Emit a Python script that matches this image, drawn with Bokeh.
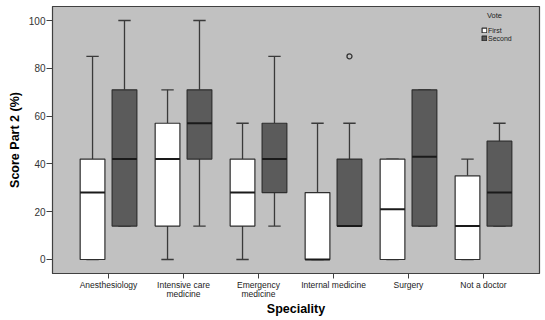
from bokeh.plotting import figure
from bokeh.models import Range1d, FixedTicker, Legend, LegendItem, ColumnDataSource, Label
from bokeh.embed import file_html
from bokeh.resources import INLINE

categories = ["Anesthesiology", "Intensive care\nmedicine", "Emergency\nmedicine",
              "Internal medicine", "Surgery", "Not a doctor"]
series_names = ["First", "Second"]
legend_title = "Vote"

first_lower = [0, 0, 0, 0, 0, 0]
first_q1 = [0, 14, 14, 0, 0, 0]
first_median = [28, 42, 28, 0, 21, 14]
first_q3 = [42, 57, 42, 28, 42, 35]
first_upper = [85, 71, 57, 57, 42, 42]

second_lower = [14, 14, 14, 14, 14, 14]
second_q1 = [14, 42, 28, 14, 14, 14]
second_median = [42, 57, 42, 14, 43, 28]
second_q3 = [71, 71, 57, 42, 71, 49.5]
second_upper = [100, 100, 85, 57, 71, 57]

outlier_cat = [3]
outlier_series = [1]
outlier_value = [85]

y_ticks = [0, 20, 40, 60, 80, 100]

FONT = "Liberation Sans"
BG = "#c1c1c1"
DARK = "#5b5b5b"
EDGE = "#2e2e2e"
OFFSET = 0.213
BOXW = 0.33

p = figure(width=545, height=320, output_backend="svg", toolbar_location=None,
           x_range=Range1d(-0.747, 5.747), y_range=Range1d(-5.86, 105.86),
           min_border_left=52, min_border_right=6, min_border_top=6, min_border_bottom=47)
p.background_fill_color = BG
p.border_fill_color = "white"
p.outline_line_color = "#404040"
p.outline_line_width = 1.2
p.grid.visible = False

fills = ["white", DARK]
stats = [
    (first_lower, first_q1, first_median, first_q3, first_upper),
    (second_lower, second_q1, second_median, second_q3, second_upper),
]
box_renderers = []
for s, (lo, q1, med, q3, up) in enumerate(stats):
    off = -OFFSET if s == 0 else OFFSET
    xs = [i + off for i in range(len(categories))]
    src = ColumnDataSource(dict(
        x=xs, lo=lo, q1=q1, med=med, q3=q3, up=up,
        xl=[x - BOXW / 2 for x in xs], xr=[x + BOXW / 2 for x in xs],
        cl=[x - BOXW / 4 for x in xs], cr=[x + BOXW / 4 for x in xs],
    ))
    # whiskers
    p.segment(x0="x", y0="q3", x1="x", y1="up", source=src, line_color="#3a3a3a", line_width=1.3)
    p.segment(x0="x", y0="lo", x1="x", y1="q1", source=src, line_color="#3a3a3a", line_width=1.3)
    p.segment(x0="cl", y0="up", x1="cr", y1="up", source=src, line_color="#3a3a3a", line_width=1.3)
    p.segment(x0="cl", y0="lo", x1="cr", y1="lo", source=src, line_color="#3a3a3a", line_width=1.3)
    r = p.vbar(x="x", width=BOXW, bottom="q1", top="q3", source=src,
               fill_color=fills[s], line_color=EDGE, line_width=1.2)
    box_renderers.append(r)
    p.segment(x0="xl", y0="med", x1="xr", y1="med", source=src, line_color="#1a1a1a", line_width=2)

ox = [c + (-OFFSET if s == 0 else OFFSET) for c, s in zip(outlier_cat, outlier_series)]
p.scatter(ox, outlier_value, marker="circle", size=5, fill_color=None,
          line_color="#333333", line_width=1.3)

# axes
p.yaxis.ticker = FixedTicker(ticks=y_ticks)
p.xaxis.ticker = FixedTicker(ticks=list(range(len(categories))))
p.xaxis.major_label_overrides = {i: c for i, c in enumerate(categories)}
for ax in (p.xaxis[0], p.yaxis[0]):
    ax.axis_line_color = "#404040"
    ax.major_tick_line_color = "#404040"
    ax.major_tick_in = 0
    ax.major_tick_out = 6
    ax.minor_tick_line_color = None
    ax.major_label_text_font = FONT
    ax.axis_label_text_font = FONT
    ax.axis_label_text_font_style = "bold"
    ax.axis_label_text_font_size = "12.5px"
    ax.axis_label_text_color = "black"
p.yaxis.major_label_text_font_size = "10px"
p.yaxis.major_label_text_color = "#333333"
p.yaxis.major_label_standoff = 1
p.yaxis.axis_label_standoff = 4
p.yaxis.axis_label = "Score Part 2 (%)"
p.xaxis.major_label_text_font_size = "8.5px"
p.xaxis.major_label_text_color = "#222222"
p.xaxis.major_label_text_line_height = 0.9
p.xaxis.major_label_standoff = 1
p.xaxis.axis_label_standoff = 0
p.xaxis.axis_label = "Speciality"
p.xaxis.major_tick_out = 5

legend = Legend(items=[LegendItem(label=series_names[i], renderers=[box_renderers[i]]) for i in range(2)],
                location=(429, 231), padding=2, margin=0, spacing=0,
                label_text_font=FONT, label_text_font_size="7px", label_height=8,
                label_text_color="#222222",
                glyph_width=6, glyph_height=6, label_standoff=1,
                background_fill_alpha=0, border_line_color=None)
p.add_layout(legend)

p.add_layout(Label(x=5.147, y=102.1, text=legend_title, text_font=FONT, text_font_size="7.5px",
                   text_color="#222222", text_align="center", text_baseline="middle"))

open("out.html", "w").write(file_html(p, INLINE))
